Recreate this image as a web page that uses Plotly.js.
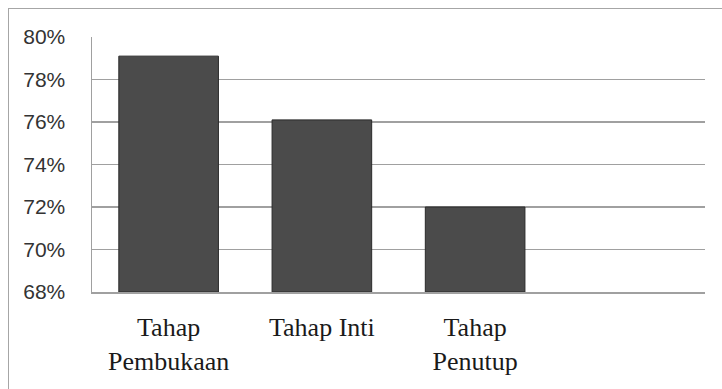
<!DOCTYPE html>
<html>
<head>
<meta charset="utf-8">
<script src="https://cdn.plot.ly/plotly-3.0.1.min.js"></script>
<style>
html,body{margin:0;padding:0;background:#fff;}
#frame{position:absolute;left:8px;top:8px;width:730px;height:400px;border:1.5px solid #a6a6a6;box-sizing:border-box;}
#chart{position:absolute;left:0;top:0;width:722px;height:389px;}
</style>
</head>
<body>
<div id="frame"></div>
<div id="chart"></div>
<script>
const categories = ["Tahap<br>Pembukaan", "Tahap Inti", "Tahap<br>Penutup"];
const values = [0.791, 0.761, 0.720];
const yTickValues = [0.68, 0.70, 0.72, 0.74, 0.76, 0.78, 0.80];
const axisMin = 0.68;

const trace = {
  type: "bar",
  x: categories,
  y: values.map(v => v - axisMin),
  base: axisMin,
  width: 0.65,
  marker: {color: "#4b4b4b", line: {color: "#2a2a2a", width: 1}},
  hoverinfo: "none"
};

const layout = {
  width: 722, height: 389,
  margin: {l: 92, r: 17, t: 37, b: 97},
  paper_bgcolor: "rgba(0,0,0,0)",
  plot_bgcolor: "#fff",
  showlegend: false,
  xaxis: {
    type: "category",
    range: [-0.5, 3.5],
    showgrid: false,
    showline: true, linecolor: "#a0a0a0", linewidth: 1.5,
    ticks: "",
    ticklabelstandoff: 11,
    tickfont: {family: "Liberation Serif, Times New Roman, serif", size: 26, color: "#1a1a1a"}
  },
  yaxis: {
    range: [0.68, 0.80],
    tickvals: yTickValues,
    tickformat: ".0%",
    showgrid: true, gridcolor: "#a0a0a0", gridwidth: 1.5,
    showline: true, linecolor: "#a0a0a0", linewidth: 1.5,
    zeroline: false,
    ticks: "",
    ticklabelstandoff: 21,
    tickfont: {family: "Liberation Sans, Arial, sans-serif", size: 21, color: "#333"}
  }
};

Plotly.newPlot("chart", [trace], layout, {staticPlot: true, displayModeBar: false});
</script>
</body>
</html>
